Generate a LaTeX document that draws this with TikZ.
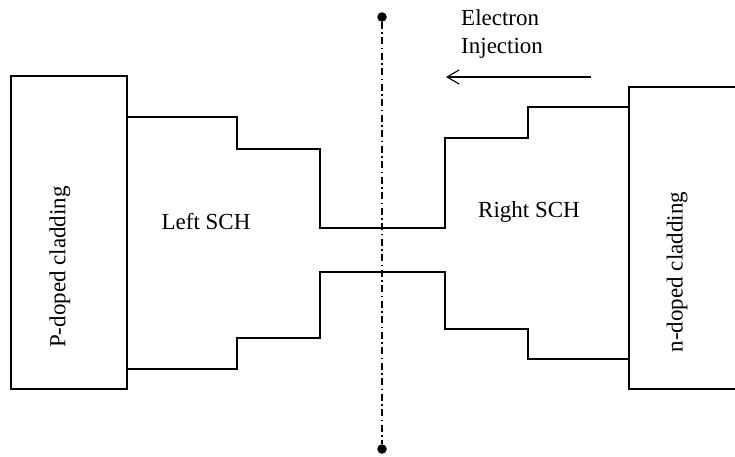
\documentclass[tikz,border=0pt]{standalone}
\usepackage{fontspec}
\setmainfont{Liberation Serif}
\usetikzlibrary{arrows.meta}
\begin{document}
\begin{tikzpicture}[x=1pt,y=-1pt,
  wall/.style={draw=black,line width=1.4pt},
  label/.style={font=\fontsize{23}{27}\selectfont,inner sep=0pt},
  axisline/.style={line width=1.1pt,dash pattern=on 7pt off 3.5pt on 1.5pt off 3.5pt},
  enddot/.style={circle,fill=black,inner sep=0pt,minimum size=9.5pt},
  flow/.style={line width=1.1pt,-{Straight Barb[length=12pt,width=14pt,line width=1.1pt]}}]
\useasboundingbox (0,0) rectangle (735,456);
% left cladding box
\node[wall,rectangle,minimum width=116pt,minimum height=313pt,inner sep=0pt] (pclad) at (69,232.5) {};
\node[label,rotate=90] (ptext) at (60,267) {P-doped cladding};
% right cladding (open on the right, beyond the page edge)
\coordinate (nTL) at (629,87);
\coordinate (nBL) at (629,389);
\draw[wall] (740,87) -- (nTL) -- (nBL) -- (740,389);
\node[label,rotate=90] (ntext) at (677,272) {n-doped cladding};
% SCH outline, upper edge
\draw[wall] (pclad.east |- 0,117) -- (237,117) -- (237,149) -- (320,149) -- (320,228)
  -- (445,228) -- (445,138) -- (528,138) -- (528,107) -- (nTL |- 0,107);
% SCH outline, lower edge
\draw[wall] (pclad.east |- 0,369) -- (237,369) -- (237,338) -- (320,338) -- (320,272)
  -- (445,272) -- (445,329) -- (528,329) -- (528,359) -- (nTL |- 0,359);
\node[label] (lsch) at (206,222) {Left SCH};
\node[label] (rsch) at (529,212) {Right SCH};
% symmetry axis
\node[enddot] (topdot) at (382,17) {};
\node[enddot] (botdot) at (382,449) {};
\draw[axisline] (topdot) -- (botdot);
% electron injection
\node[label,anchor=base west] (el1) at (461,25) {Electron};
\node[label,anchor=base west] (el2) at (461,53) {Injection};
\coordinate (arrS) at (591,77);
\coordinate (arrE) at (446,77);
\draw[flow] (arrS) -- (arrE);
\end{tikzpicture}
\end{document}
